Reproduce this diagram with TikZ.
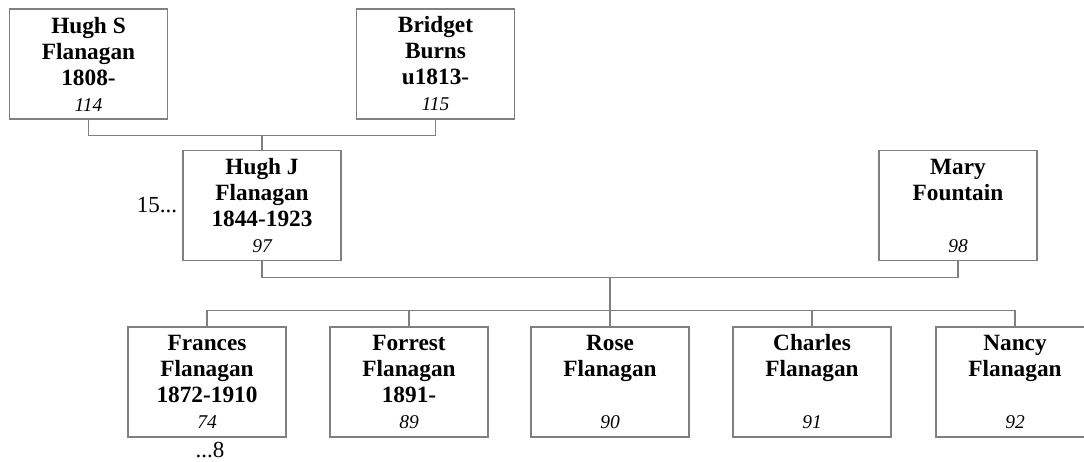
\documentclass[tikz,border=0pt]{standalone}
\usepackage{fontspec}
\setmainfont{Liberation Serif}
\usetikzlibrary{positioning}

% name, surname, dates, reference number
\newcommand{\famcard}[4]{\textbf{#1}\\\textbf{#2}\\\textbf{#3}\\{\fontsize{19.5}{26}\selectfont\itshape #4}}

\begin{document}
\begin{tikzpicture}[
  x=1pt, y=-1pt,
  person/.style={draw=gray, line width=1.2pt, fill=white,
                 minimum width=158pt, minimum height=110pt,
                 inner sep=0pt, align=center,
                 font=\fontsize{23.3}{26}\selectfont},
  link/.style={draw=gray, line width=1.2pt},
  annot/.style={inner sep=0pt, font=\fontsize{23}{26}\selectfont}
]
\useasboundingbox (0,0) rectangle (1084,461);
\clip (0,0) rectangle (1084,461);

% ---- Grandparents ----
\node[person] (hughs) at (88.5, 64) {\famcard{Hugh S}{Flanagan}{1808-}{114}};
\node[person] (bridget) at (435.5, 64) {\famcard{Bridget}{Burns}{u1813-}{115}};

% ---- Parents ----
\node[person] (hughj) at (262, 205.5) {\famcard{Hugh J}{Flanagan}{1844-1923}{97}};
\node[person] (mary) at (958, 205.5) {\famcard{Mary}{Fountain}{}{98}};
\node[annot, left=5pt of hughj] (more15) {15...};

% ---- Children ----
\node[person] (frances) at (207, 382) {\famcard{Frances}{Flanagan}{1872-1910}{74}};
\node[person] (forrest) at (409, 382) {\famcard{Forrest}{Flanagan}{1891-}{89}};
\node[person] (rose) at (610, 382) {\famcard{Rose}{Flanagan}{}{90}};
\node[person] (charles) at (812, 382) {\famcard{Charles}{Flanagan}{}{91}};
\node[person] (nancy) at (1015, 382) {\famcard{Nancy}{Flanagan}{}{92}};
\node[annot, below=4pt of frances, xshift=3pt] (more8) {...8};

% ---- Lines ----
\draw[link] (hughs.south) -- ++(0,16) coordinate (gpline) -| (bridget.south);
\draw[link] (hughj.north) -- (hughj.north |- gpline);
\draw[link] (hughj.south) -- ++(0,16) coordinate (pline) -| (mary.south);
\draw[link] (frances.north) -- ++(0,-16) coordinate (kline) -| (nancy.north);
\draw[link] (rose.north |- pline) -- (rose.north);
\draw[link] (forrest.north) -- (forrest.north |- kline);
\draw[link] (charles.north) -- (charles.north |- kline);

\end{tikzpicture}
\end{document}
